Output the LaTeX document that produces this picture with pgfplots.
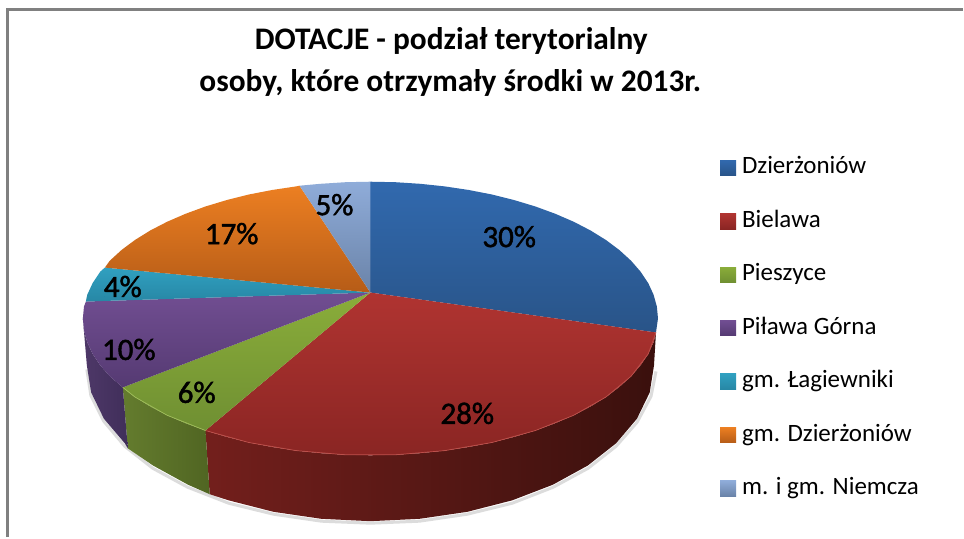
\documentclass[border=0pt]{standalone}
\usepackage{fontspec}
\setmainfont{Carlito}
\newfontfamily\semibf[RawFeature={embolden=1.6}]{Carlito}
\usepackage{pgfplots}
\pgfplotsset{compat=1.18}
\definecolor{framegray}{HTML}{808080}
\begin{document}
\begin{tikzpicture}
\begin{axis}[
    scale only axis, width=964pt, height=538pt,
    xmin=0, xmax=964, ymin=0, ymax=538, y dir=reverse,
    hide axis, clip=false, no markers,
    legend style={at={(axis cs:721,157)}, anchor=north west, draw=none, fill=none,
        font=\fontsize{25}{25}\selectfont, row sep=31pt, column sep=6pt, inner sep=0pt,
        nodes={inner sep=0pt, text height=17pt, text depth=5.5pt}},
    legend cell align=left,
    legend image code/.code={\path[#1] (0pt,-7.5pt) rectangle (16pt,8pt);},
]
% page background and frame
\addplot[draw=none, fill=white, forget plot] coordinates {(0,0) (964,0) (964,538) (0,538) (0,0)};
\addplot[framegray, line width=3pt, forget plot] coordinates {(8,538) (8,10) (964,10)};

% soft shadow below the pie
\addplot[gray!45, line width=3pt, opacity=0.6, forget plot] coordinates {(657,372) (652,397) (638,423) (617,447) (589,469) (554,488) (513,504) (468,515) (420,522) (371,524) (322,522) (274,515) (229,504) (188,488) (153,469) (125,447) (104,422) (91,396) (87,370)};

% side walls
\addplot[draw=none, forget plot, left color={rgb,255:red,115;green,31;blue,28}, middle color={rgb,255:red,72;green,20;blue,17}, right color={rgb,255:red,58;green,16;blue,13}] coordinates {(657,333) (654.6,342.8) (649.2,354.5) (641.6,365.9) (632,376.9) (620.4,387.5) (606.9,397.6) (591.6,407.1) (574.6,415.9) (556.1,423.9) (536.2,431.2) (515,437.6) (492.7,443.2) (469.5,447.7) (445.5,451.3) (421,453.9) (396.1,455.5) (371,456) (345.9,455.5) (321,453.9) (296.5,451.3) (272.5,447.7) (249.3,443.2) (227,437.6) (205.8,431.2) (210,495) (229,501.1) (273.9,512.6) (321.7,519.6) (371,522) (420.3,519.6) (468.1,512.6) (513,501.1) (553.6,485.5) (588.6,466.3) (617,444) (637.9,419.4) (650.7,393.1) (655,366) (657,333)};
\addplot[draw=none, forget plot, left color={rgb,255:red,100;green,124;blue,46}, right color={rgb,255:red,80;green,101;blue,34}] coordinates {(205.8,431.2) (185.9,423.9) (167.4,415.9) (150.4,407.1) (135.1,397.6) (123,388) (128,449) (153.4,466.3) (188.4,485.5) (210,495) (205.8,431.2)};
\addplot[draw=none, forget plot, left color={rgb,255:red,78;green,56;blue,104}, right color={rgb,255:red,64;green,46;blue,90}] coordinates {(123,388) (110,376.9) (100.4,365.9) (92.8,354.5) (87.4,342.8) (84.1,330.9) (83,319) (87,366) (91.3,393.1) (104.1,419.4) (125,444) (128,449) (123,388)};

% top faces, one per legend entry
\addplot[draw=none, top color={rgb,255:red,49;green,105;blue,174}, bottom color={rgb,255:red,41;green,84;blue,136}] coordinates {(371,293) (371,182) (396.1,182.5) (421,184.1) (445.5,186.7) (469.5,190.3) (492.7,194.8) (515,200.4) (536.2,206.8) (556.1,214.1) (574.6,222.1) (591.6,230.9) (606.9,240.4) (620.4,250.5) (632,261.1) (641.6,272.1) (649.2,283.5) (654.6,295.2) (657.9,307.1) (659,319) (657,333) (371,293)};
\addlegendentry{Dzierżoniów}
\addplot[draw=none, top color={rgb,255:red,176;green,52;blue,49}, bottom color={rgb,255:red,138;green,37;blue,35}] coordinates {(371,293) (657,333) (654.6,342.8) (649.2,354.5) (641.6,365.9) (632,376.9) (620.4,387.5) (606.9,397.6) (591.6,407.1) (574.6,415.9) (556.1,423.9) (536.2,431.2) (515,437.6) (492.7,443.2) (469.5,447.7) (445.5,451.3) (421,453.9) (396.1,455.5) (371,456) (345.9,455.5) (321,453.9) (296.5,451.3) (272.5,447.7) (249.3,443.2) (227,437.6) (205.8,431.2) (371,293)};
\addlegendentry{Bielawa}
\addplot[draw=none, top color={rgb,255:red,138;green,173;blue,58}, bottom color={rgb,255:red,111;green,143;blue,50}] coordinates {(371,293) (205.8,431.2) (185.9,423.9) (167.4,415.9) (150.4,407.1) (135.1,397.6) (123,388) (371,293)};
\addlegendentry{Pieszyce}
\addplot[draw=none, top color={rgb,255:red,113;green,78;blue,146}, bottom color={rgb,255:red,85;green,58;blue,114}] coordinates {(371,293) (123,388) (110,376.9) (100.4,365.9) (92.8,354.5) (87.4,342.8) (84.1,330.9) (83,319) (84.1,307.1) (86,302) (371,293)};
\addlegendentry{Piława Górna}
\addplot[draw=none, top color={rgb,255:red,48;green,160;blue,192}, bottom color={rgb,255:red,39;green,135;blue,165}] coordinates {(371,293) (86,302) (87.4,295.2) (92.8,283.5) (100.4,272.1) (105,268) (371,293)};
\addlegendentry{gm. Łagiewniki}
\addplot[draw=none, top color={rgb,255:red,236;green,127;blue,34}, bottom color={rgb,255:red,182;green,92;blue,23}] coordinates {(371,293) (105,268) (110,261.1) (121.6,250.5) (135.1,240.4) (150.4,230.9) (167.4,222.1) (185.9,214.1) (205.8,206.8) (227,200.4) (249.3,194.8) (272.5,190.3) (296.5,186.7) (300,186) (371,293)};
\addlegendentry{gm. Dzierżoniów}
\addplot[draw=none, top color={rgb,255:red,143;green,172;blue,217}, bottom color={rgb,255:red,106;green,131;blue,168}] coordinates {(371,293) (300,186) (321,184.1) (345.9,182.5) (371,182) (371,293)};
\addlegendentry{m. i gm. Niemcza}

% light highlight along the front rim
\addplot[forget plot, line width=0.7pt, color={rgb,255:red,190;green,80;blue,75}] coordinates {(657,333) (649.2,354.5) (632,376.9) (606.9,397.6) (574.6,415.9) (536.2,431.2) (492.7,443.2) (445.5,451.3) (396.1,455.5) (345.9,455.5) (296.5,451.3) (249.3,443.2) (205.8,431.2)};
\addplot[forget plot, line width=0.7pt, color={rgb,255:red,160;green,190;blue,90}] coordinates {(205.8,431.2) (167.4,415.9) (135.1,397.6) (123,388)};

% percentage labels
\addplot[draw=none, mark=none, forget plot, point meta=explicit symbolic, nodes near coords,
    nodes near coords style={anchor=center, font=\fontsize{31}{31}\semibf, text=black}]
    coordinates {(510,237) [30\%] (468,414) [28\%] (197,393) [6\%] (129,350) [10\%] (123,287) [4\%] (232,234) [17\%] (335,205) [5\%]};

% title
\node[font=\fontsize{31.4}{31.4}\selectfont\bfseries, align=center] at (axis cs:452,41) {DOTACJE - podział terytorialny};
\node[font=\fontsize{31.4}{31.4}\selectfont\bfseries, align=center] at (axis cs:451,83) {osoby, które otrzymały środki w 2013r.};
\end{axis}
\end{tikzpicture}
\end{document}
